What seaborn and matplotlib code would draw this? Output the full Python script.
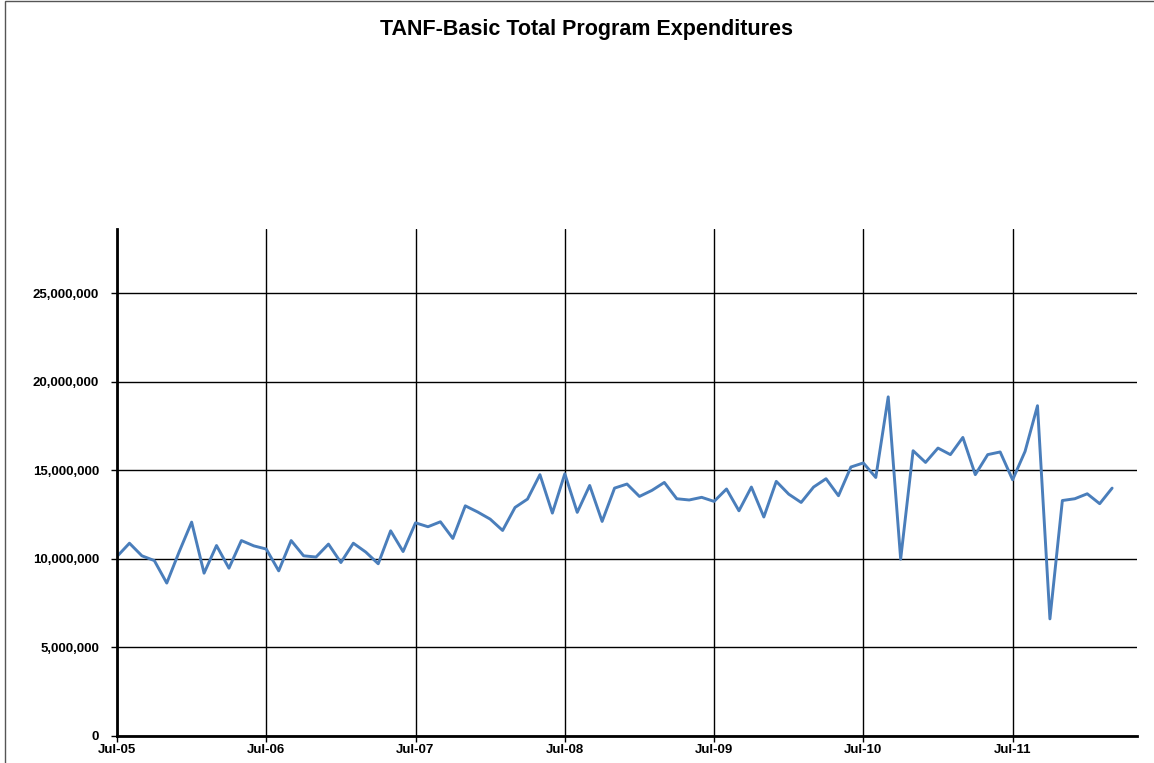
import numpy as np
import pandas as pd
import seaborn as sns
import matplotlib.pyplot as plt
from matplotlib.patches import Rectangle
from matplotlib.ticker import FuncFormatter

# monthly expenditures, Jul-05 .. Mar-12 (millions)
fy06 = [10.13, 10.88, 10.17, 9.90, 8.63, 10.40, 12.07, 9.19, 10.75, 9.47, 11.03, 10.73]
fy07 = [10.55, 9.32, 11.03, 10.17, 10.10, 10.83, 9.79, 10.88, 10.38, 9.72, 11.58, 10.41]
fy08 = [12.03, 11.81, 12.09, 11.15, 12.99, 12.64, 12.24, 11.60, 12.90, 13.37, 14.75, 12.58]
fy09 = [14.80, 12.62, 14.14, 12.11, 13.99, 14.22, 13.52, 13.86, 14.31, 13.39, 13.32, 13.47]
fy10 = [13.24, 13.94, 12.71, 14.05, 12.36, 14.37, 13.65, 13.18, 14.05, 14.52, 13.56, 15.18]
fy11 = [15.41, 14.59, 19.14, 9.98, 16.10, 15.44, 16.25, 15.88, 16.85, 14.75, 15.88, 16.03]
fy12 = [14.46, 16.06, 18.64, 6.61, 13.29, 13.39, 13.67, 13.11, 13.99]

expenditures = np.array(fy06 + fy07 + fy08 + fy09 + fy10 + fy11 + fy12) * 1e6
months = pd.period_range('2005-07', periods=len(expenditures), freq='M')
df = pd.DataFrame({'month_idx': np.arange(len(expenditures)), 'expenditures': expenditures})

tick_pos = np.arange(0, len(months), 12)
tick_labels = [months[i].strftime('%b-%y') for i in tick_pos]
y_ticks = [0, 5e6, 10e6, 15e6, 20e6, 25e6]

sns.set_style('white')
plt.rcParams['font.family'] = ['Liberation Sans', 'DejaVu Sans']
plt.rcParams['text.color'] = 'black'
plt.rcParams['xtick.color'] = 'black'
plt.rcParams['ytick.color'] = 'black'

fig = plt.figure(figsize=(11.54, 7.63), dpi=100)
ax = fig.add_axes([117 / 1154, 27 / 763, 1020 / 1154, 507.3 / 763])

sns.lineplot(data=df, x='month_idx', y='expenditures', ax=ax, color='#4a7ebb', linewidth=2.1)

ax.set_xlim(0, 82)
ax.set_ylim(0, 28.63e6)
ax.set_xticks(tick_pos)
ax.set_xticklabels(tick_labels)
ax.set_yticks(y_ticks)
ax.yaxis.set_major_formatter(FuncFormatter(lambda v, p: f'{int(v):,}'))
ax.grid(True, color='black', linewidth=1.0)
ax.set_axisbelow(True)
ax.set_xlabel('')
ax.set_ylabel('')

for s in ['top', 'right']:
    ax.spines[s].set_visible(False)
for s in ['left', 'bottom']:
    ax.spines[s].set_color('black')
    ax.spines[s].set_linewidth(2.0)

ax.tick_params(axis='both', length=4, width=1, color='black', labelcolor='black',
               direction='out', labelsize=9.5, bottom=True, left=True)
ax.tick_params(axis='y', pad=9)
ax.tick_params(axis='x', pad=2)
for lab in ax.get_xticklabels() + ax.get_yticklabels():
    lab.set_fontweight('bold')

fig.text(586 / 1154, 1 - 30 / 763, 'TANF-Basic Total Program Expenditures',
         ha='center', va='center', fontsize=15.5, fontweight='bold', color='black')

fig.patches.append(Rectangle((4.5 / 1154, -0.1), 1.2, 1 - 1.2 / 763 + 0.1,
                             transform=fig.transFigure, fill=False,
                             edgecolor='#555555', linewidth=1.0))

plt.savefig('out.png', dpi=100)
